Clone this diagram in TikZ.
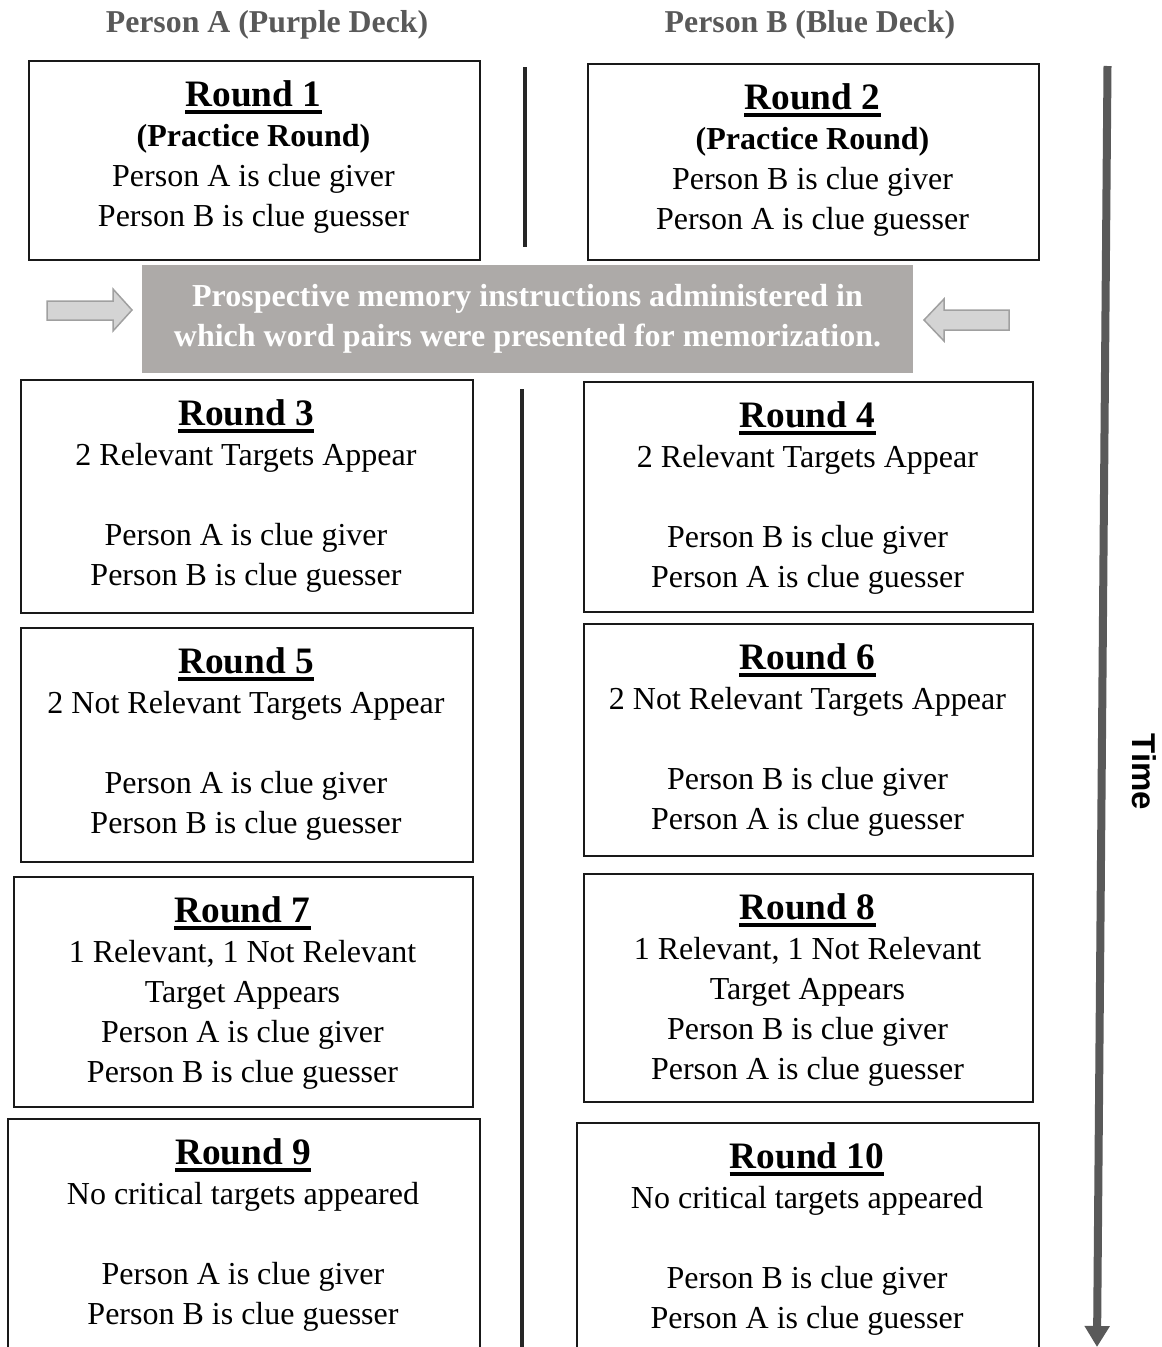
\documentclass[tikz,border=0pt]{standalone}
\usepackage{fontspec}
\setmainfont{Liberation Serif}
\newfontfamily\timefont{Liberation Sans}
\usetikzlibrary{arrows.meta}
\definecolor{hdrgray}{RGB}{89,89,89}
\definecolor{pmfill}{RGB}{173,170,168}
\definecolor{arrfill}{RGB}{212,212,212}
\definecolor{arrline}{RGB}{160,160,160}
\definecolor{divcol}{RGB}{38,38,38}
\definecolor{timecol}{RGB}{89,89,89}
\tikzset{
  box/.style={draw=black!90, line width=2pt, fill=white, inner sep=0pt, anchor=north west},
  ttl/.style={font=\bfseries\fontsize{37.3}{40}\selectfont, inner sep=0pt, anchor=base},
  sub/.style={font=\bfseries\fontsize{32}{38}\selectfont, inner sep=0pt, anchor=base},
  txt/.style={font=\fontsize{32}{38}\selectfont, inner sep=0pt, anchor=base},
  hdr/.style={font=\bfseries\fontsize{31.8}{38}\selectfont, text=hdrgray, inner sep=0pt, anchor=base},
  pmtxt/.style={font=\bfseries\fontsize{32}{38}\selectfont, text=white, inner sep=0pt, anchor=base},
  uline/.style={line width=3.5pt, black},
  divider/.style={line width=4pt, divcol},
  blockarrow/.style={fill=arrfill, draw=arrline, line width=1.5pt, line join=miter},
}
\begin{document}
\begin{tikzpicture}[x=1pt, y=-1pt]
\useasboundingbox (0,0) rectangle (1162,1347);
\clip (0,0) rectangle (1162,1347);

% headers
\node[hdr] (hA) at (267,32) {Person A (Purple Deck)};
\node[hdr] (hB) at (810,32) {Person B (Blue Deck)};

% dividers
\coordinate (d1a) at (525,67);  \coordinate (d1b) at (525,247);
\coordinate (d2a) at (522,389); \coordinate (d2b) at (522,1352);
\draw[divider] (d1a) -- (d1b);
\draw[divider] (d2a) -- (d2b);

% time arrow
\coordinate (tA) at (1107.5,66);
\coordinate (tB) at (1097,1347);
\draw[line width=8pt, timecol, -{Triangle[width=24pt,length=21pt]}] (tA) -- (tB);
\node[font=\timefont\bfseries\fontsize{33}{38}\selectfont, rotate=-90, inner sep=0pt] (time) at (1144,772) {Time};

% Round 1
\node[box, minimum width=451pt, minimum height=199pt] (r1) at (28,60) {};
\node[ttl] (t1) at (253.5,106.5) {Round 1};
\draw[uline] ([yshift=-5.5pt]t1.base west) -- ([yshift=-5.5pt]t1.base east);
\node[sub] (r1a) at (253.5,146.5) {(Practice Round)};
\node[txt] (r1b) at (253.5,186.5) {Person A is clue giver};
\node[txt] (r1c) at (253.5,226.5) {Person B is clue guesser};

% Round 2
\node[box, minimum width=451pt, minimum height=196pt] (r2) at (587,63) {};
\node[ttl] (t2) at (812.5,109.5) {Round 2};
\draw[uline] ([yshift=-5.5pt]t2.base west) -- ([yshift=-5.5pt]t2.base east);
\node[sub] (r2a) at (812.5,149.5) {(Practice Round)};
\node[txt] (r2b) at (812.5,189.5) {Person B is clue giver};
\node[txt] (r2c) at (812.5,229.5) {Person A is clue guesser};

% prospective memory box
\node[fill=pmfill, inner sep=0pt, anchor=north west, minimum width=771pt, minimum height=108pt] (pm) at (142,265) {};
\node[pmtxt] (pm1) at (527.5,306) {Prospective memory instructions administered in};
\node[pmtxt] (pm2) at (527.5,346) {which word pairs were presented for memorization.};

% block arrows
\draw[blockarrow] (47,301) -- (113,301) -- (113,289) -- (132,310) -- (113,331) -- (113,320) -- (47,320) -- cycle;
\draw[blockarrow] (1009,310) -- (944,310) -- (944,299) -- (924,320) -- (944,341) -- (944,330) -- (1009,330) -- cycle;

% Round 3
\node[box, minimum width=452pt, minimum height=233pt] (r3) at (20,379) {};
\node[ttl] (t3) at (246,425.5) {Round 3};
\draw[uline] ([yshift=-5.5pt]t3.base west) -- ([yshift=-5.5pt]t3.base east);
\node[txt] (r3a) at (246,465.5) {2 Relevant Targets Appear};
\node[txt] (r3b) at (246,545.5) {Person A is clue giver};
\node[txt] (r3c) at (246,585.5) {Person B is clue guesser};

% Round 4
\node[box, minimum width=449pt, minimum height=230pt] (r4) at (583,381) {};
\node[ttl] (t4) at (807.5,427.5) {Round 4};
\draw[uline] ([yshift=-5.5pt]t4.base west) -- ([yshift=-5.5pt]t4.base east);
\node[txt] (r4a) at (807.5,467.5) {2 Relevant Targets Appear};
\node[txt] (r4b) at (807.5,547.5) {Person B is clue giver};
\node[txt] (r4c) at (807.5,587.5) {Person A is clue guesser};

% Round 5
\node[box, minimum width=452pt, minimum height=234pt] (r5) at (20,627) {};
\node[ttl] (t5) at (246,673.5) {Round 5};
\draw[uline] ([yshift=-5.5pt]t5.base west) -- ([yshift=-5.5pt]t5.base east);
\node[txt] (r5a) at (246,713.5) {2 Not Relevant Targets Appear};
\node[txt] (r5b) at (246,793.5) {Person A is clue giver};
\node[txt] (r5c) at (246,833.5) {Person B is clue guesser};

% Round 6
\node[box, minimum width=449pt, minimum height=232pt] (r6) at (583,623) {};
\node[ttl] (t6) at (807.5,669.5) {Round 6};
\draw[uline] ([yshift=-5.5pt]t6.base west) -- ([yshift=-5.5pt]t6.base east);
\node[txt] (r6a) at (807.5,709.5) {2 Not Relevant Targets Appear};
\node[txt] (r6b) at (807.5,789.5) {Person B is clue giver};
\node[txt] (r6c) at (807.5,829.5) {Person A is clue guesser};

% Round 7
\node[box, minimum width=459pt, minimum height=230pt] (r7) at (13,876) {};
\node[ttl] (t7) at (242.5,922.5) {Round 7};
\draw[uline] ([yshift=-5.5pt]t7.base west) -- ([yshift=-5.5pt]t7.base east);
\node[txt] (r7a) at (242.5,962.5) {1 Relevant, 1 Not Relevant};
\node[txt] (r7b) at (242.5,1002.5) {Target Appears};
\node[txt] (r7c) at (242.5,1042.5) {Person A is clue giver};
\node[txt] (r7d) at (242.5,1082.5) {Person B is clue guesser};

% Round 8
\node[box, minimum width=449pt, minimum height=228pt] (r8) at (583,873) {};
\node[ttl] (t8) at (807.5,919.5) {Round 8};
\draw[uline] ([yshift=-5.5pt]t8.base west) -- ([yshift=-5.5pt]t8.base east);
\node[txt] (r8a) at (807.5,959.5) {1 Relevant, 1 Not Relevant};
\node[txt] (r8b) at (807.5,999.5) {Target Appears};
\node[txt] (r8c) at (807.5,1039.5) {Person B is clue giver};
\node[txt] (r8d) at (807.5,1079.5) {Person A is clue guesser};

% Round 9
\node[box, minimum width=472pt, minimum height=245pt] (r9) at (7,1118) {};
\node[ttl] (t9) at (243,1164.5) {Round 9};
\draw[uline] ([yshift=-5.5pt]t9.base west) -- ([yshift=-5.5pt]t9.base east);
\node[txt] (r9a) at (243,1204.5) {No critical targets appeared};
\node[txt] (r9b) at (243,1284.5) {Person A is clue giver};
\node[txt] (r9c) at (243,1324.5) {Person B is clue guesser};

% Round 10
\node[box, minimum width=462pt, minimum height=245pt] (r10) at (576,1122) {};
\node[ttl] (t10) at (807,1168.5) {Round 10};
\draw[uline] ([yshift=-5.5pt]t10.base west) -- ([yshift=-5.5pt]t10.base east);
\node[txt] (r10a) at (807,1208.5) {No critical targets appeared};
\node[txt] (r10b) at (807,1288.5) {Person B is clue giver};
\node[txt] (r10c) at (807,1328.5) {Person A is clue guesser};
\end{tikzpicture}
\end{document}
